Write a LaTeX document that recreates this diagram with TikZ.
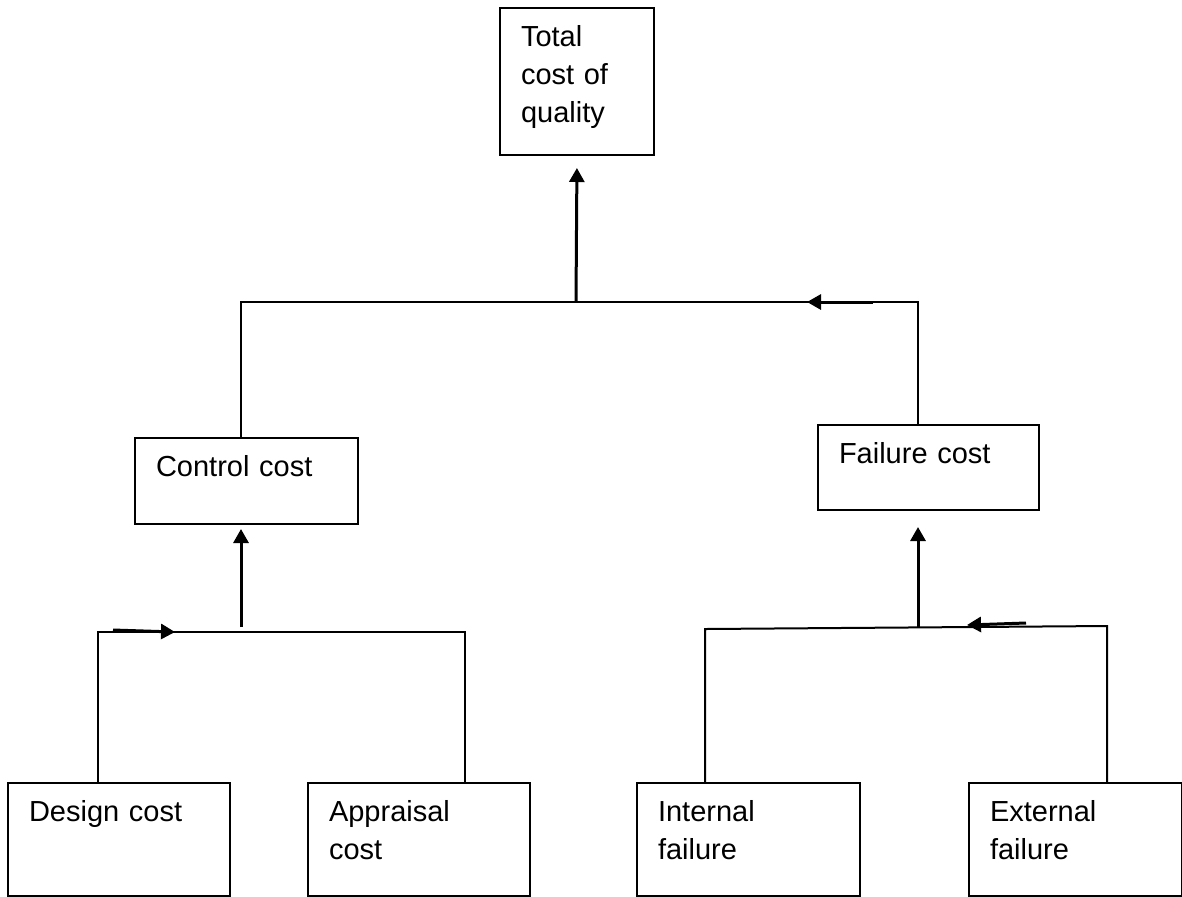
\documentclass[tikz,border=0pt]{standalone}
\usepackage{fontspec}
\setmainfont{Liberation Sans}
\usetikzlibrary{arrows.meta,calc}
\tikzset{
  costbox/.style 2 args={draw,line width=1pt,anchor=north west,align=left,
    inner xsep=10.5pt,inner ysep=0pt,text width=#1,text height=19pt,text depth=#2,
    font=\fontsize{14.5pt}{19.2pt}\selectfont},
  wire/.style={line width=1pt},
  arr/.style={-{Triangle[length=7pt,width=7.5pt]},line width=1.5pt},
}
\begin{document}
\begin{tikzpicture}[x=0.5pt,y=-0.5pt]
\useasboundingbox (0,0) rectangle (1182,896);

\node[costbox={56pt}{54.5pt}] (total) at (499,7) {Total\\cost of\\quality};
\node[costbox={90.5pt}{24pt}] (ctl) at (134,437) {Control cost};
\node[costbox={89.5pt}{23.5pt}] (fail) at (817,424) {Failure cost};
\node[costbox={90pt}{37.5pt}] (design) at (7,782) {Design cost};
\node[costbox={90pt}{37.5pt}] (appr) at (307,782) {Appraisal\\cost};
\node[costbox={90.5pt}{37.5pt}] (intf) at (636,782) {Internal\\failure};
\node[costbox={85.5pt}{37.5pt}] (extf) at (968,782) {External\\failure};

\coordinate (jtop) at (576,302);
\coordinate (jctl) at (241,627);
\coordinate (jfail) at (918,627);
\coordinate (dl) at (98,632);
\coordinate (dr) at (465,632);
\coordinate (fl) at (705,629);
\coordinate (fr) at (1107,626);

\draw[wire] (ctl.north -| jctl) |- (jtop) -| (fail.north -| jfail);
\draw[wire] (design.north -| dl) -- (dl) -- (dr) -- (appr.north -| dr);
\draw[wire] (intf.north -| fl) -- (fl) -- (fr) -- (extf.north -| fr);

\draw[arr,shorten >=6pt] (jtop) -- (total.south);
\draw[arr,shorten >=2pt] (jctl) -- (ctl.south -| jctl);
\draw[arr,shorten >=8pt] (jfail) -- (fail.south -| jfail);

% direction marks on the bars
\coordinate (m1) at (873,302);
\coordinate (m2) at (807,302);
\coordinate (m3) at (113,630);
\coordinate (m4) at (175,632);
\coordinate (m5) at (1026,623);
\coordinate (m6) at (967,625);
\draw[arr] (m1) -- (m2);
\draw[arr] (m3) -- (m4);
\draw[arr] (m5) -- (m6);

\end{tikzpicture}
\end{document}
